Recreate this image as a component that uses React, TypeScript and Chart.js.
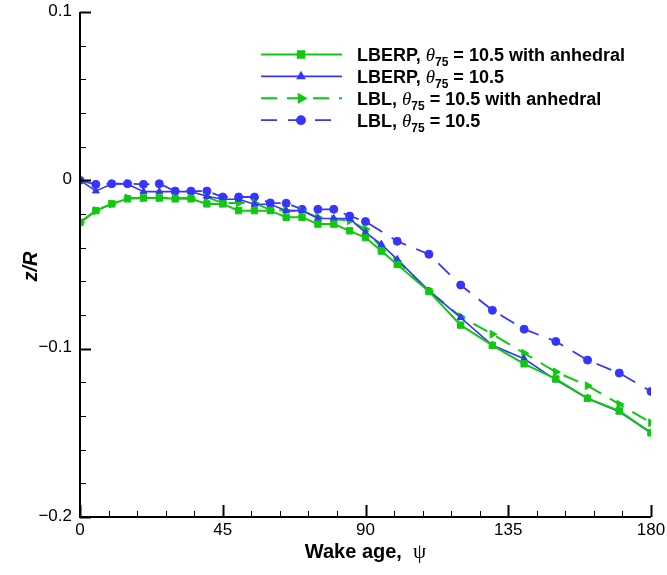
import React, { useEffect, useRef } from 'react';
import { Chart, registerables } from 'chart.js';
import { drawPoint } from 'chart.js/helpers';

Chart.register(...registerables);

// Wake age (deg)
const psiA = [0, 5, 10, 15, 20, 25, 30, 35, 40, 45, 50, 55, 60, 65, 70, 75, 80, 85, 90, 95, 100, 110, 120, 130, 140, 150, 160, 170, 180];
const psiB = [0, 5, 10, 15, 20, 25, 30, 35, 40, 45, 50, 55, 60, 65, 70, 75, 80, 85, 90, 100, 110, 120, 130, 140, 150, 160, 170, 180];

// LBERP, theta75 = 10.5 with anhedral (uses psiA)
const lberpAnhedral = [-0.025, -0.018, -0.014, -0.011, -0.0105, -0.0105, -0.011, -0.011, -0.014, -0.014, -0.018, -0.018, -0.018, -0.022, -0.022, -0.026, -0.026, -0.030, -0.034, -0.042, -0.050, -0.066, -0.086, -0.098, -0.109, -0.118, -0.1295, -0.137, -0.150];
// LBERP, theta75 = 10.5 (uses psiA)
const lberp = [0, -0.0063, -0.0022, -0.0022, -0.0067, -0.0067, -0.0067, -0.0067, -0.0095, -0.0112, -0.0112, -0.0142, -0.0142, -0.018, -0.018, -0.0227, -0.0227, -0.0227, -0.031, -0.038, -0.047, -0.0657, -0.0815, -0.098, -0.106, -0.1185, -0.1296, -0.1375, -0.150];
// LBL, theta75 = 10.5 with anhedral (uses psiA)
const lblAnhedral = [-0.025, -0.018, -0.014, -0.0105, -0.0105, -0.0105, -0.0105, -0.0105, -0.010, -0.0135, -0.0135, -0.0135, -0.0175, -0.018, -0.018, -0.022, -0.023, -0.024, -0.029, -0.040, -0.048, -0.0657, -0.081, -0.0914, -0.1027, -0.1138, -0.122, -0.133, -0.144];
// LBL, theta75 = 10.5 (uses psiB)
const lbl = [0, -0.0024, -0.002, -0.002, -0.0024, -0.002, -0.0064, -0.0064, -0.0064, -0.0099, -0.0099, -0.0099, -0.0134, -0.0136, -0.0172, -0.0172, -0.0172, -0.0212, -0.0245, -0.0362, -0.0439, -0.0622, -0.0772, -0.0884, -0.0957, -0.1068, -0.1145, -0.1254];

const legendPrefix = ['LBERP, ', 'LBERP, ', 'LBL, ', 'LBL, '];
const legendSuffix = [' = 10.5 with anhedral', ' = 10.5', ' = 10.5 with anhedral', ' = 10.5'];

const xTickValues = [0, 45, 90, 135, 180];
const xTickLabels = ['0', '45', '90', '135', '180'];
const yTickValues = [0.1, 0, -0.1, -0.2];
const yTickLabels = ['0.1', '0', '\u22120.1', '\u22120.2'];

const GREEN = '#10c810';
const BLUE = '#3535ff';

const toPts = (xs: number[], ys: number[]) => xs.map((x, i) => ({ x, y: ys[i] }));

const overlayPlugin = {
  id: 'overlay',
  afterDraw(chart: any) {
    const ctx: CanvasRenderingContext2D = chart.ctx;
    const xs = chart.scales.x;
    const ys = chart.scales.y;
    const left = xs.getPixelForValue(0);
    const right = xs.getPixelForValue(180);
    const top = ys.getPixelForValue(0.1);
    const bottom = ys.getPixelForValue(-0.2);
    ctx.save();
    ctx.strokeStyle = '#000';
    ctx.fillStyle = '#000';
    ctx.lineWidth = 2;
    ctx.setLineDash([]);
    ctx.beginPath();
    ctx.moveTo(left, top);
    ctx.lineTo(left, bottom);
    ctx.lineTo(right, bottom);
    ctx.stroke();
    // y ticks
    ctx.lineWidth = 1.5;
    for (let v = -0.2; v <= 0.1001; v += 0.02) {
      const py = Math.round(ys.getPixelForValue(v)) + 0.5;
      const major = Math.abs(Math.round(v * 10) - v * 10) < 1e-6;
      ctx.lineWidth = major ? 2 : 1;
      ctx.beginPath();
      ctx.moveTo(left, py);
      ctx.lineTo(left + (major ? 11 : 6), py);
      ctx.stroke();
    }
    for (let v = 0; v <= 180.01; v += 9) {
      const px = Math.round(xs.getPixelForValue(v)) + 0.5;
      const major = v % 45 === 0;
      ctx.lineWidth = major ? 2 : 1;
      ctx.beginPath();
      ctx.moveTo(px, bottom);
      ctx.lineTo(px, bottom - (major ? 12 : 6));
      ctx.stroke();
    }
    // tick labels
    ctx.font = '17px "Liberation Sans", Arial, sans-serif';
    ctx.textAlign = 'right';
    ctx.textBaseline = 'middle';
    yTickValues.forEach((v, i) => {
      ctx.fillText(yTickLabels[i], left - 8, ys.getPixelForValue(v) - 1);
    });
    ctx.textAlign = 'center';
    ctx.textBaseline = 'top';
    xTickValues.forEach((v, i) => {
      ctx.fillText(xTickLabels[i], xs.getPixelForValue(v), bottom + 5);
    });
    // x title
    const boldF = 'bold 20px "Liberation Sans", Arial, sans-serif';
    const psiF = '21px "Liberation Serif", serif';
    ctx.font = boldF;
    const t1 = 'Wake age,  ';
    const w1 = ctx.measureText(t1).width;
    ctx.font = psiF;
    const w2 = ctx.measureText('\u03C8').width;
    const cx = (left + right) / 2;
    let sx = cx - (w1 + w2) / 2;
    ctx.textAlign = 'left';
    ctx.textBaseline = 'alphabetic';
    ctx.font = boldF;
    ctx.fillText(t1, sx, 558);
    ctx.font = psiF;
    ctx.fillText('\u03C8', sx + w1, 558);
    // y title
    ctx.save();
    ctx.translate(37, (top + bottom) / 2 + 2);
    ctx.rotate(-Math.PI / 2);
    ctx.font = 'italic bold 20px "Liberation Sans", Arial, sans-serif';
    ctx.textAlign = 'center';
    ctx.textBaseline = 'alphabetic';
    ctx.fillText('z/R', 0, 0);
    ctx.restore();
    // legend
    const lx0 = 261, lx1 = 342, mx = 301, tx = 357;
    chart.data.datasets.forEach((ds: any, i: number) => {
      const y = 54.5 + i * 21.9;
      ctx.strokeStyle = ds.borderColor;
      ctx.fillStyle = ds.backgroundColor;
      ctx.lineWidth = ds.borderWidth;
      ctx.setLineDash(ds.borderDash || []);
      ctx.beginPath();
      ctx.moveTo(lx0, y);
      ctx.lineTo(lx1, y);
      ctx.stroke();
      ctx.setLineDash([]);
      drawPoint(ctx, { pointStyle: ds.pointStyle, radius: ds.pointRadius, rotation: ds.pointRotation || 0, borderWidth: 1 }, mx, y);
      ctx.fillStyle = '#000';
      ctx.textBaseline = 'alphabetic';
      ctx.textAlign = 'left';
      const base = y + 6.5;
      let x = tx;
      ctx.font = 'bold 18px "Liberation Sans", Arial, sans-serif';
      ctx.fillText(legendPrefix[i], x, base);
      x += ctx.measureText(legendPrefix[i]).width;
      ctx.font = 'italic 19px "Liberation Serif", serif';
      ctx.fillText('\u03B8', x, base);
      x += ctx.measureText('\u03B8').width;
      ctx.font = 'bold 12px "Liberation Sans", Arial, sans-serif';
      ctx.fillText('75', x, base + 5);
      x += ctx.measureText('75').width;
      ctx.font = 'bold 18px "Liberation Sans", Arial, sans-serif';
      ctx.fillText(legendSuffix[i], x, base);
    });
    ctx.restore();
  },
};

export default function App() {
  const ref = useRef<HTMLCanvasElement | null>(null);
  useEffect(() => {
    if (!ref.current) return;
    const chart = new Chart(ref.current, {
      type: 'scatter',
      data: {
        datasets: [
          {
            label: 'LBERP, θ75 = 10.5 with anhedral',
            data: toPts(psiA, lberpAnhedral),
            showLine: true,
            borderColor: GREEN,
            backgroundColor: GREEN,
            borderWidth: 2,
            pointStyle: 'rect',
            pointRadius: 4.5,
            pointBorderWidth: 1,
          },
          {
            label: 'LBERP, θ75 = 10.5',
            data: toPts(psiA, lberp),
            showLine: true,
            borderColor: BLUE,
            backgroundColor: BLUE,
            borderWidth: 1.6,
            pointStyle: 'triangle',
            pointRadius: 4,
            pointBorderWidth: 1,
          },
          {
            label: 'LBL, θ75 = 10.5 with anhedral',
            data: toPts(psiA, lblAnhedral),
            showLine: true,
            borderColor: GREEN,
            backgroundColor: GREEN,
            borderWidth: 2,
            borderDash: [16, 10],
            pointStyle: 'triangle',
            pointRotation: 90,
            pointRadius: 4.5,
            pointBorderWidth: 1,
          },
          {
            label: 'LBL, θ75 = 10.5',
            data: toPts(psiB, lbl),
            showLine: true,
            borderColor: BLUE,
            backgroundColor: BLUE,
            borderWidth: 1.8,
            borderDash: [16, 11],
            pointStyle: 'circle',
            pointRadius: 4,
            pointBorderWidth: 1,
          },
        ],
      },
      options: {
        animation: false,
        responsive: false,
        maintainAspectRatio: false,
        layout: { padding: { left: 80, right: 16, top: 12, bottom: 58 } },
        plugins: { legend: { display: false }, tooltip: { enabled: false }, title: { display: false } },
        scales: {
          x: { type: 'linear', min: 0, max: 180, display: false },
          y: { type: 'linear', min: -0.2, max: 0.1, display: false },
        },
      },
      plugins: [overlayPlugin],
    });
    return () => chart.destroy();
  }, []);
  return (
    <div style={{ position: 'absolute', left: 0, top: 0, width: 667, height: 575, background: '#fff' }}>
      <canvas ref={ref} width={667} height={575} style={{ display: 'block' }} />
    </div>
  );
}
